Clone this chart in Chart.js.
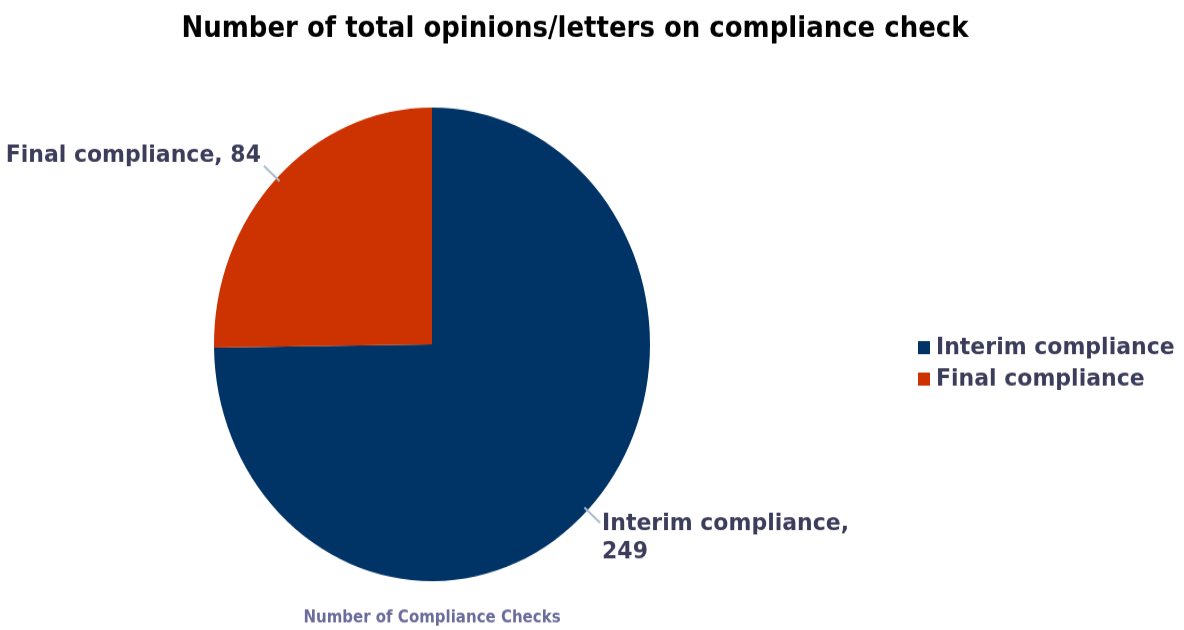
<!DOCTYPE html>
<html lang="en">
<head>
    <meta charset="UTF-8">
    <title>Number of total opinions/letters on compliance check</title>
    <script src="https://cdn.jsdelivr.net/npm/chart.js"></script>
    <style>
        html, body {
            margin: 0;
            padding: 0;
            width: 1184px;
            height: 630px;
            background: #ffffff;
            overflow: hidden;
        }
        /* the reference pie is a little taller than wide, so stretch the whole drawing */
        .stage {
            width: 1184px;
            height: 580px;
            transform: scaleY(1.0862);
            transform-origin: 0 0;
        }
        #pieChart {
            display: block;
        }
    </style>
</head>
<body>
    <div class="stage">
        <canvas id="pieChart" width="1184" height="580"></canvas>
    </div>

    <script>
        const chartTitle = 'Number of total opinions/letters on compliance check';
        const footNote = 'Number of Compliance Checks';
        const categories = ['Interim compliance', 'Final compliance'];
        const counts = [249, 84];
        const sliceColors = ['#003366', '#cc3300'];

        const textColor = '#3c3d5a';
        const labelFont = 'bold 22px "DejaVu Sans", sans-serif';

        function wrapText(ctx, text, maxWidth) {
            const words = text.split(' ');
            const lines = [];
            let line = '';
            words.forEach(w => {
                const test = line ? line + ' ' + w : w;
                if (line && ctx.measureText(test).width > maxWidth) {
                    lines.push(line);
                    line = w;
                } else {
                    line = test;
                }
            });
            lines.push(line);
            return lines;
        }

        const decorations = {
            id: 'decorations',
            afterDraw(chart) {
                const ctx = chart.ctx;
                const area = chart.chartArea;
                ctx.save();

                // title
                ctx.fillStyle = '#000000';
                ctx.font = 'bold 26px "DejaVu Sans", sans-serif';
                ctx.textAlign = 'center';
                ctx.textBaseline = 'middle';
                ctx.fillText(chartTitle, 575, 27);

                // data labels with leader lines
                const meta = chart.getDatasetMeta(0);
                const lineH = 26;
                meta.data.forEach((arc, i) => {
                    const mid = (arc.startAngle + arc.endAngle) / 2;
                    const dx = Math.cos(mid), dy = Math.sin(mid);
                    const r = arc.outerRadius;
                    const x1 = arc.x + dx * (r - 4), y1 = arc.y + dy * (r - 4);
                    const x2 = arc.x + dx * (r + 18), y2 = arc.y + dy * (r + 16);
                    ctx.strokeStyle = '#a9bccb';
                    ctx.lineWidth = 2;
                    ctx.beginPath();
                    ctx.moveTo(x1, y1);
                    ctx.lineTo(x2, y2);
                    ctx.stroke();

                    ctx.font = labelFont;
                    ctx.fillStyle = textColor;
                    const lines = wrapText(ctx, categories[i] + ', ' + counts[i], 280);
                    const left = dx < 0;
                    ctx.textAlign = left ? 'right' : 'left';
                    const tx = left ? x2 - 3 : x2 + 2;
                    const ty = dy < 0 ? y2 - lines.length * lineH + lineH / 2 + 4 : y2 + 1;
                    ctx.textBaseline = 'middle';
                    lines.forEach((ln, k) => ctx.fillText(ln, tx, ty + k * lineH));
                });

                // legend
                ctx.textAlign = 'left';
                ctx.textBaseline = 'middle';
                ctx.font = labelFont;
                categories.forEach((c, i) => {
                    const cy = 320 + i * 29;
                    ctx.fillStyle = sliceColors[i];
                    ctx.fillRect(918, cy - 6, 12, 12);
                    ctx.fillStyle = textColor;
                    ctx.fillText(c, 936, cy);
                });

                // axis note under the pie
                ctx.font = 'bold 15px "DejaVu Sans", sans-serif';
                ctx.fillStyle = '#6b6b9c';
                ctx.textAlign = 'center';
                ctx.textBaseline = 'middle';
                ctx.fillText(footNote, (area.left + area.right) / 2, 569);

                ctx.restore();
            }
        };

        new Chart(document.getElementById('pieChart'), {
            type: 'pie',
            data: {
                labels: categories,
                datasets: [{
                    data: counts,
                    backgroundColor: sliceColors,
                    borderWidth: 0
                }]
            },
            options: {
                responsive: false,
                animation: false,
                layout: {
                    padding: { top: 99, bottom: 45, left: 214, right: 534 }
                },
                plugins: {
                    legend: { display: false },
                    title: { display: false },
                    tooltip: { enabled: false }
                }
            },
            plugins: [decorations]
        });
    </script>
</body>
</html>
